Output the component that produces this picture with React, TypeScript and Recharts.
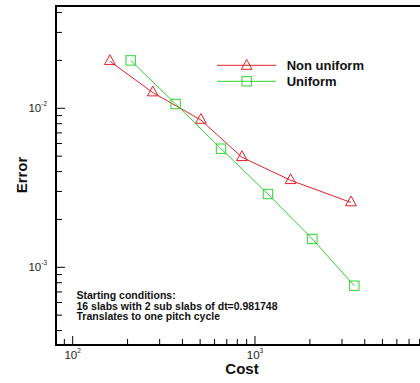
import { ScatterChart, Scatter, XAxis, YAxis, ReferenceLine, Customized } from 'recharts';

const nonUniformCost = [160, 275, 505, 848, 1568, 3362];
const nonUniformError = [0.01975, 0.01255, 0.00844, 0.00492, 0.003525, 0.002556];
const uniformCost = [208, 367, 651, 1178, 2063, 3505];
const uniformError = [0.02, 0.01064, 0.00557, 0.00289, 0.001507, 0.000766];

const xTicks = [90, 100, 200, 300, 400, 500, 600, 700, 800, 900, 1000, 2000, 3000, 4000, 5000, 6000, 7000, 8000, 9000];
const yTicks = [0.0004, 0.0005, 0.0006, 0.0007, 0.0008, 0.0009, 0.001, 0.002, 0.003, 0.004, 0.005, 0.006, 0.007, 0.008, 0.009, 0.01, 0.02, 0.03, 0.04];
const xDomain = [81, 10000];
const yDomain = [0.0003246, 0.04397];

const seriesNames = ['Non uniform', 'Uniform'];
const notes = ['Starting conditions:', '16 slabs with 2 sub slabs of dt=0.981748', 'Translates to one pitch cycle'];

const RED = '#e3202a';
const GREEN = '#2ed42e';
const FONT = '"Liberation Sans", Arial, Helvetica, sans-serif';

const nonUniform = nonUniformCost.map((c, i) => ({ cost: c, error: nonUniformError[i] }));
const uniform = uniformCost.map((c, i) => ({ cost: c, error: uniformError[i] }));

const isDecade = (v: number) => Math.abs(Math.log10(v) - Math.round(Math.log10(v))) < 1e-6;

const Triangle = ({ cx, cy }: any) => (
  <path d={`M${cx},${cy - 6.5}L${cx + 5.4},${cy + 3.3}L${cx - 5.4},${cy + 3.3}Z`} fill="none" stroke={RED} strokeWidth={1} />
);

const Square = ({ cx, cy }: any) => (
  <rect x={cx - 4.7} y={cy - 4.7} width={9.4} height={9.4} fill="none" stroke={GREEN} strokeWidth={1} />
);

const XTick = ({ x, y, payload }: any) => {
  const major = isDecade(payload.value);
  return (
    <g>
      <line x1={x} y1={y} x2={x} y2={y - (major ? 9 : 6)} stroke="#000" strokeWidth={1} />
      {major && (
        <text x={x} y={y + 13.5} textAnchor="middle" fontSize={11.5} fill="#222" fontFamily={FONT}>
          <tspan>10</tspan>
          <tspan dy={-6} fontSize={6.5}>{Math.round(Math.log10(payload.value))}</tspan>
        </text>
      )}
    </g>
  );
};

const YTick = ({ x, y, payload }: any) => {
  const major = isDecade(payload.value);
  return (
    <g>
      <line x1={x} y1={y} x2={x + (major ? 9 : 6)} y2={y} stroke="#000" strokeWidth={1} />
      {major && (
        <text x={x - 9} y={y + 4} textAnchor="end" fontSize={11.5} fill="#222" fontFamily={FONT}>
          <tspan>10</tspan>
          <tspan dy={-6} fontSize={6.5}>{Math.round(Math.log10(payload.value))}</tspan>
        </text>
      )}
    </g>
  );
};

const Decorations = () => (
  <g fontFamily={FONT} fontWeight="bold" fill="#111">
    <line x1={217} y1={65.3} x2={276} y2={65.3} stroke={RED} strokeWidth={1} />
    <Triangle cx={246.7} cy={66} />
    <text x={286.7} y={70} fontSize={13}>{seriesNames[0]}</text>
    <line x1={217} y1={81.3} x2={276} y2={81.3} stroke={GREEN} strokeWidth={1} />
    <Square cx={246.7} cy={81.3} />
    <text x={286.7} y={86} fontSize={13}>{seriesNames[1]}</text>
    {notes.map((t, i) => (
      <text key={t} x={76.5} y={298.8 + i * 10.8} fontSize={10.5}>{t}</text>
    ))}
    <text x={242} y={374} fontSize={15} textAnchor="middle">Cost</text>
    <text x={26.7} y={175} fontSize={15} textAnchor="middle" transform="rotate(-90 26.7 175)">Error</text>
  </g>
);

export default function App() {
  return (
    <div style={{ position: 'absolute', left: 0, top: 0, width: 420, height: 383, overflow: 'hidden', background: '#fff' }}>
      <ScatterChart width={460} height={383} margin={{ top: 6, right: 22.7, bottom: 0, left: 0 }}>
        <XAxis
          type="number"
          dataKey="cost"
          scale="log"
          domain={xDomain}
          allowDataOverflow
          ticks={xTicks}
          interval={0}
          tickSize={0}
          tickMargin={0}
          tickLine={false}
          tick={<XTick />}
          height={38}
          axisLine={{ stroke: '#000', strokeWidth: 2, strokeLinecap: 'square' }}
        />
        <YAxis
          type="number"
          dataKey="error"
          scale="log"
          domain={yDomain}
          allowDataOverflow
          ticks={yTicks}
          interval={0}
          tickSize={0}
          tickMargin={0}
          tickLine={false}
          tick={<YTick />}
          width={56}
          axisLine={{ stroke: '#000', strokeWidth: 2, strokeLinecap: 'square' }}
        />
        <ReferenceLine y={yDomain[1]} stroke="#000" strokeWidth={2} />
        <Scatter data={nonUniform} shape={<Triangle />} line={{ stroke: RED, strokeWidth: 1 }} isAnimationActive={false} />
        <Scatter data={uniform} shape={<Square />} line={{ stroke: GREEN, strokeWidth: 1 }} isAnimationActive={false} />
        <Customized component={Decorations} />
      </ScatterChart>
    </div>
  );
}
